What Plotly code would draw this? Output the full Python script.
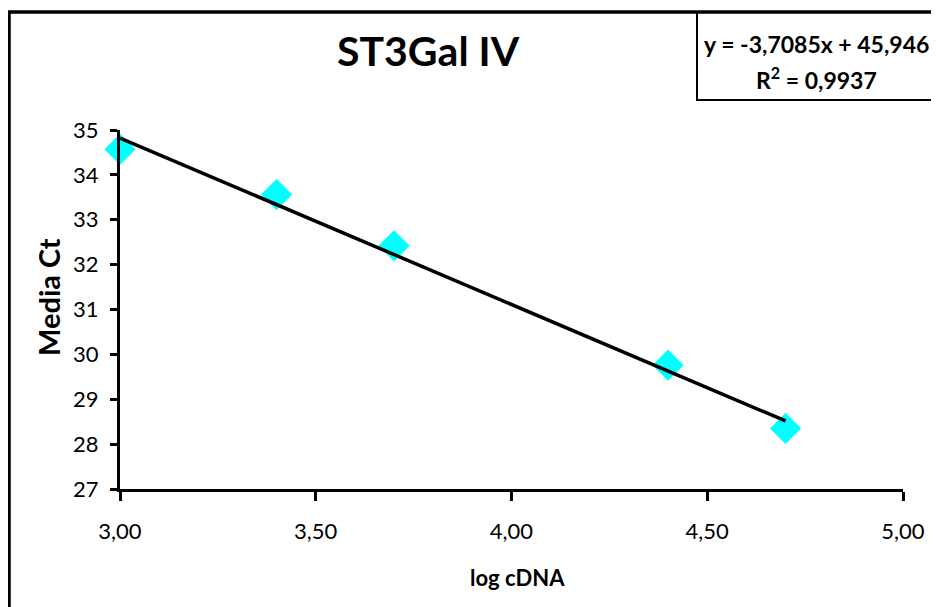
import plotly.graph_objects as go

# Data
log_cdna = [3.00, 3.40, 3.70, 4.40, 4.70]
media_ct = [34.57, 33.56, 32.42, 29.76, 28.35]
slope = -3.7085
intercept = 45.946
r2_text = "0,9937"
x_ticks = [3.0, 3.5, 4.0, 4.5, 5.0]
y_ticks = [27, 28, 29, 30, 31, 32, 33, 34, 35]

FONT = "Lato"

trend_x = [min(log_cdna), max(log_cdna)]
trend_y = [slope * v + intercept for v in trend_x]

fig = go.Figure()
fig.add_trace(go.Scatter(
    x=log_cdna, y=media_ct, mode="markers",
    marker=dict(symbol="diamond", size=24, color="#00FFFF", line=dict(width=0)),
    cliponaxis=False, showlegend=False))
fig.add_trace(go.Scatter(
    x=trend_x, y=trend_y, mode="lines",
    line=dict(color="black", width=3.5),
    cliponaxis=False, showlegend=False))

# page offset (body margin) = 8 px
OFF = 8
W, H = 939 - OFF, 607 - OFF
L, T = 120 - OFF, 130 - OFF
R = W - (903 - OFF)
B = H - (489 - OFF)
pw, ph = W - L - R, H - T - B

def px(xp):
    return (xp - OFF - L) / pw

def py(yp):
    return (H - B - (yp - OFF)) / ph

fig.update_layout(
    width=W, height=H,
    margin=dict(l=L, r=R, t=T, b=B, autoexpand=False),
    paper_bgcolor="white", plot_bgcolor="white",
    separators=",.",
    font=dict(family=FONT, color="black", size=22),
    xaxis=dict(range=[3, 5], tickvals=x_ticks, tickformat=".2f",
               showgrid=False, zeroline=False, showline=True,
               linecolor="black", linewidth=3, ticks="outside",
               ticklen=9, tickwidth=3, tickcolor="black",
               ticklabelstandoff=12,
               tickfont=dict(size=22, family=FONT)),
    yaxis=dict(range=[27, 35], tickvals=y_ticks,
               showgrid=False, zeroline=False, showline=True,
               linecolor="black", linewidth=3, ticks="outside",
               ticklen=7, tickwidth=3, tickcolor="black",
               ticklabelstandoff=7,
               tickfont=dict(size=22, family=FONT)),
    shapes=[
        dict(type="rect", xref="paper", yref="paper",
             x0=px(9), x1=px(960), y0=py(640), y1=py(12),
             line=dict(color="black", width=3.5), layer="below"),
        dict(type="rect", xref="paper", yref="paper",
             x0=px(697), x1=px(936), y0=py(100), y1=py(12),
             line=dict(color="black", width=2)),
    ],
    annotations=[
        dict(text="<b>ST3Gal IV</b>", xref="paper", yref="paper",
             x=px(428), y=py(50), showarrow=False,
             font=dict(size=41, family=FONT), xanchor="center", yanchor="middle"),
        dict(text="<b>y = -3,7085x + 45,946</b>", xref="paper", yref="paper",
             x=px(816), y=py(44), showarrow=False,
             font=dict(size=23, family=FONT), xanchor="center", yanchor="middle"),
        dict(text="<b>R<sup>2</sup> = " + r2_text + "</b>", xref="paper", yref="paper",
             x=px(816), y=py(79), showarrow=False,
             font=dict(size=23, family=FONT), xanchor="center", yanchor="middle"),
        dict(text="<b>log cDNA</b>", xref="paper", yref="paper",
             x=px(517), y=py(577), showarrow=False,
             font=dict(size=22, family=FONT), xanchor="center", yanchor="middle"),
        dict(text="<b>Media Ct</b>", xref="paper", yref="paper",
             x=px(48), y=py(297), showarrow=False, textangle=-90,
             font=dict(size=29, family=FONT), xanchor="center", yanchor="middle"),
    ],
)

fig.write_html("out.html")
